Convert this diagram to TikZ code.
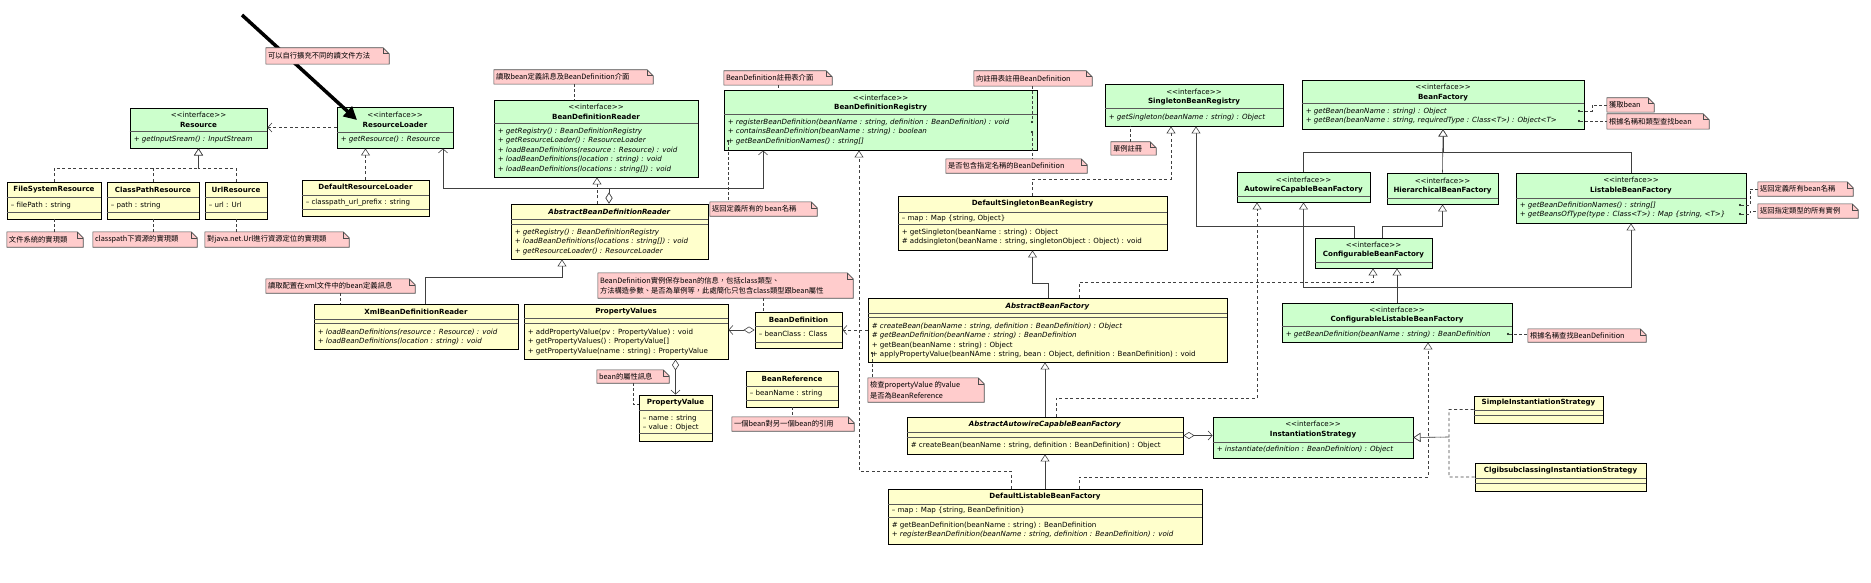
\documentclass[tikz,border=0pt]{standalone}
\usepackage{fontspec}
\setmainfont{DejaVu Sans}
\newfontfamily\cjk{Noto Sans CJK TC}
\usetikzlibrary{arrows.meta, fit}

\definecolor{ifgreen}{HTML}{CCFFCC}
\definecolor{clyellow}{HTML}{FFFFCC}
\definecolor{notepink}{HTML}{FFCCCC}

\newcommand\kfont{\fontsize{7.1}{9.6}\selectfont}
\newcommand\nfont{\cjk\fontsize{7.3}{10.5}\selectfont}
\newcommand\stereo{<{}<interface>{}>}
\newcommand\kbox[4]{\node[kbox,fill=#2,fit={#3 #4}] (#1) {};}
\newcommand\kdiv[2]{\draw[kdiv] (#1.west |- 0,#2) -- (#1.east |- 0,#2);}
\newcommand\khead[3]{\node[khead] (#1-h) at (#1.north |- 0,#2) {#3};}
\newcommand\kbody[4][]{\node[kbody,#1] (#2-b) at (#2.west |- 0,#3) {#4};}
\newcommand\memo[4]{\node[fit={#2 #3},inner sep=0pt] (#1) {};
  \filldraw[memo] (#1.south west) -- (#1.north west) -- ([xshift=-6pt]#1.north east)
    -- ([yshift=-6pt]#1.north east) -- (#1.south east) -- cycle;
  \draw[memoline] ([xshift=-6pt]#1.north east) |- ([yshift=-6pt]#1.north east);
  \node[memotext] (#1-t) at (#1.west) {#4};}

\begin{document}
\begin{tikzpicture}[x=1pt, y=-1pt,
    kbox/.style={draw=black, line width=0.9pt, inner sep=0pt},
    kdiv/.style={black!65, line width=0.5pt},
    khead/.style={font=\kfont, align=center, inner sep=0pt},
    kbody/.style={font=\kfont, align=left, anchor=north west, inner sep=0pt, xshift=4pt, yshift=3.5pt},
    memo/.style={fill=notepink, draw=black!70, line width=0.6pt},
    memoline/.style={draw=black!70, line width=0.6pt},
    memotext/.style={anchor=west, xshift=2pt, font=\nfont, align=left, inner sep=0pt},
    gen/.style={draw=black!75, line width=0.6pt, -{Triangle[open, fill=white, length=7pt, width=9pt]}},
    real/.style={gen, dash pattern=on 3pt off 2.5pt},
    agg/.style={draw=black!75, line width=0.6pt, {Diamond[open, fill=white, length=11pt, width=7pt]}-{Straight Barb[length=4pt, width=9pt]}},
    dep/.style={draw=black!75, line width=0.6pt, dash pattern=on 3pt off 2.5pt, -{Straight Barb[length=4pt, width=9pt]}},
    nline/.style={draw=black!75, line width=0.5pt, dash pattern=on 2.5pt off 2.5pt},
    dot/.style={circle, fill=black, inner sep=0pt, minimum size=2.4pt}]
\useasboundingbox (0,0) rectangle (1871,583);

% interfaces
\kbox{rsrc}{ifgreen}{(130,108)}{(267,148)}
\khead{rsrc}{120}{\stereo\\\textbf{Resource}}
\kdiv{rsrc}{131}
\kbody[font=\kfont\itshape]{rsrc}{139}{+ getInputSream() : InputStream}

\kbox{rl}{ifgreen}{(337,107)}{(453,148)}
\khead{rl}{120}{\stereo\\\textbf{ResourceLoader}}
\kdiv{rl}{132}
\kbody[font=\kfont\itshape]{rl}{139}{+ getResource() : Resource}

\kbox{bdr}{ifgreen}{(494,100)}{(698,177)}
\khead{bdr}{112}{\stereo\\\textbf{BeanDefinitionReader}}
\kdiv{bdr}{123}
\kbody[font=\kfont\itshape]{bdr}{131}{+ getRegistry() : BeanDefinitionRegistry\\+ getResourceLoader() : ResourceLoader\\+ loadBeanDefinitions(resource : Resource) : void\\+ loadBeanDefinitions(location : string) : void\\+ loadBeanDefinitions(locations : string[]) : void}

\kbox{bdreg}{ifgreen}{(724,90)}{(1037,150)}
\khead{bdreg}{103}{\stereo\\\textbf{BeanDefinitionRegistry}}
\kdiv{bdreg}{114}
\kbody[font=\kfont\itshape]{bdreg}{122}{+ registerBeanDefinition(beanName : string, definition : BeanDefinition) : void\\+ containsBeanDefinition(beanName : string) : boolean\\+ getBeanDefinitionNames() : string[]}

\kbox{sbr}{ifgreen}{(1105,84)}{(1283,126)}
\khead{sbr}{97}{\stereo\\\textbf{SingletonBeanRegistry}}
\kdiv{sbr}{108}
\kbody[font=\kfont\itshape]{sbr}{117}{+ getSingleton(beanName : string) : Object}

\kbox{bf}{ifgreen}{(1302,80)}{(1584,129)}
\khead{bf}{92.5}{\stereo\\\textbf{BeanFactory}}
\kdiv{bf}{103}
\kbody[font=\kfont\itshape]{bf}{111}{+ getBean(beanName : string) : Object\\+ getBean(beanName : string, requiredType : Class<T>) : Object<T>}

\kbox{acbf}{ifgreen}{(1237,172)}{(1370,202)}
\khead{acbf}{185}{\stereo\\\textbf{AutowireCapableBeanFactory}}
\kdiv{acbf}{196}

\kbox{hbf}{ifgreen}{(1387,173)}{(1498,204)}
\khead{hbf}{186}{\stereo\\\textbf{HierarchicalBeanFactory}}
\kdiv{hbf}{198}

\kbox{lbf}{ifgreen}{(1516,173)}{(1746,223)}
\khead{lbf}{185.5}{\stereo\\\textbf{ListableBeanFactory}}
\kdiv{lbf}{198}
\kbody[font=\kfont\itshape]{lbf}{205}{+ getBeanDefinitionNames() : string[]\\+ getBeansOfType(type : Class<T>) : Map \{string, <T>\}}

\kbox{cbf}{ifgreen}{(1315,238)}{(1432,268)}
\khead{cbf}{250}{\stereo\\\textbf{ConfigurableBeanFactory}}
\kdiv{cbf}{262}

\kbox{clbf}{ifgreen}{(1282,303)}{(1512,342)}
\khead{clbf}{315}{\stereo\\\textbf{ConfigurableListableBeanFactory}}
\kdiv{clbf}{326}
\kbody[font=\kfont\itshape]{clbf}{334}{+ getBeanDefinition(beanName : string) : BeanDefinition}

\kbox{is}{ifgreen}{(1213,417)}{(1413,458)}
\khead{is}{429.5}{\stereo\\\textbf{InstantiationStrategy}}
\kdiv{is}{442}
\kbody[font=\kfont\itshape]{is}{449}{+ instantiate(definition : BeanDefinition) : Object}

% classes
\kbox{fsr}{clyellow}{(7,182)}{(101,219)}
\khead{fsr}{190}{\textbf{FileSystemResource}}
\kdiv{fsr}{197} \kdiv{fsr}{212}
\kbody{fsr}{205}{-- filePath : string}

\kbox{cpr}{clyellow}{(107,182)}{(199,219)}
\khead{cpr}{190}{\textbf{ClassPathResource}}
\kdiv{cpr}{197} \kdiv{cpr}{212}
\kbody{cpr}{205}{-- path : string}

\kbox{ur}{clyellow}{(205,182)}{(267,219)}
\khead{ur}{190}{\textbf{UrlResource}}
\kdiv{ur}{197} \kdiv{ur}{212}
\kbody{ur}{205}{-- url : Url}

\kbox{drl}{clyellow}{(302,180)}{(429,216)}
\khead{drl}{187}{\textbf{DefaultResourceLoader}}
\kdiv{drl}{195} \kdiv{drl}{209}
\kbody{drl}{202}{-- classpath\_url\_prefix : string}

\kbox{abdr}{clyellow}{(511,204)}{(708,259)}
\khead{abdr}{212}{\textbf{\textit{AbstractBeanDefinitionReader}}}
\kdiv{abdr}{219} \kdiv{abdr}{224}
\kbody[font=\kfont\itshape]{abdr}{232}{+ getRegistry() : BeanDefinitionRegistry\\+ loadBeanDefinitions(locations : string[]) : void\\+ getResourceLoader() : ResourceLoader}

\kbox{xbdr}{clyellow}{(314,304)}{(518,349)}
\khead{xbdr}{311.5}{\textbf{XmlBeanDefinitionReader}}
\kdiv{xbdr}{319} \kdiv{xbdr}{323}
\kbody[font=\kfont\itshape]{xbdr}{332}{+ loadBeanDefinitions(resource : Resource) : void\\+ loadBeanDefinitions(location : string) : void}

\kbox{pvs}{clyellow}{(524,304)}{(728,359)}
\khead{pvs}{311.5}{\textbf{PropertyValues}}
\kdiv{pvs}{318} \kdiv{pvs}{323}
\kbody{pvs}{332}{+ addPropertyValue(pv : PropertyValue) : void\\+ getPropertyValues() : PropertyValue[]\\+ getPropertyValue(name : string) : PropertyValue}

\kbox{pv}{clyellow}{(639,395)}{(712,441)}
\khead{pv}{403}{\textbf{PropertyValue}}
\kdiv{pv}{410} \kdiv{pv}{433}
\kbody{pv}{418}{-- name : string\\-- value : Object}

\kbox{bd}{clyellow}{(755,312)}{(842,348)}
\khead{bd}{320}{\textbf{BeanDefinition}}
\kdiv{bd}{326} \kdiv{bd}{342}
\kbody{bd}{334}{-- beanClass : Class}

\kbox{bref}{clyellow}{(746,371)}{(838,407)}
\khead{bref}{378.5}{\textbf{BeanReference}}
\kdiv{bref}{386} \kdiv{bref}{400}
\kbody{bref}{393}{-- beanName : string}

\kbox{dsbr}{clyellow}{(898,196)}{(1167,250)}
\khead{dsbr}{203.5}{\textbf{DefaultSingletonBeanRegistry}}
\kdiv{dsbr}{212} \kdiv{dsbr}{224}
\kbody{dsbr}{218}{-- map : Map \{string, Object\}}
\kbody{dsbr}{232}{+ getSingleton(beanName : string) : Object\\\# addsingleton(beanName : string, singletonObject : Object) : void}

\kbox{abf}{clyellow}{(868,298)}{(1227,362)}
\khead{abf}{306.5}{\textbf{\textit{AbstractBeanFactory}}}
\kdiv{abf}{313} \kdiv{abf}{317}
\kbody{abf}{326}{\textit{\# createBean(beanName : string, definition : BeanDefinition) : Object}\\\textit{\# getBeanDefinition(beanName : string) : BeanDefinition}\\+ getBean(beanName : string) : Object\\+ applyPropertyValue(beanNAme : string, bean : Object, definition : BeanDefinition) : void}

\kbox{aacbf}{clyellow}{(907,417)}{(1183,454)}
\khead{aacbf}{425}{\textbf{\textit{AbstractAutowireCapableBeanFactory}}}
\kdiv{aacbf}{432} \kdiv{aacbf}{437}
\kbody{aacbf}{445}{\# createBean(beanName : string, definition : BeanDefinition) : Object}

\kbox{dlbf}{clyellow}{(888,489)}{(1202,544)}
\khead{dlbf}{497}{\textbf{DefaultListableBeanFactory}}
\kdiv{dlbf}{504} \kdiv{dlbf}{517}
\kbody{dlbf}{510.5}{-- map : Map \{string, BeanDefinition\}}
\kbody{dlbf}{525}{\# getBeanDefinition(beanName : string) : BeanDefinition\\\textit{+ registerBeanDefinition(beanName : string, definition : BeanDefinition) : void}}

\kbox{sis}{clyellow}{(1474,396)}{(1603,423)}
\khead{sis}{403}{\textbf{SimpleInstantiationStrategy}}
\kdiv{sis}{410} \kdiv{sis}{415}

\kbox{cis}{clyellow}{(1475,463)}{(1646,491)}
\khead{cis}{471}{\textbf{ClgibsubclassingInstantiationStrategy}}
\kdiv{cis}{478} \kdiv{cis}{483}

% hint arrow
\coordinate (hint) at (242,15);
\coordinate (hintend) at (357,120);
\draw[line width=3.5pt, -{Triangle[length=13pt, width=13pt]}] (hint) -- (hintend);

% notes
\memo{n1}{(266,48)}{(389,64)}{可以自行擴充不同的讀文件方法}
\memo{n2}{(7,232)}{(83,247)}{文件系統的實現類}
\memo{n3}{(93,232)}{(197,247)}{classpath下資源的實現類}
\memo{n4}{(205,232)}{(349,247)}{對java.net.Url進行資源定位的實現類}
\memo{n5}{(266,279)}{(415,293)}{讀取配置在xml文件中的bean定義訊息}
\memo{n6}{(494,70)}{(653,84)}{讀取bean定義訊息及BeanDefinition介面}
\memo{n7}{(724,71)}{(832,85)}{BeanDefinition註冊表介面}
\memo{n8}{(974,71)}{(1092,86)}{向註冊表註冊BeanDefinition}
\memo{n9}{(946,159)}{(1087,173)}{是否包含指定名稱的BeanDefinition}
\memo{n10}{(710,202)}{(817,216)}{返回定義所有的 bean名稱}
\memo{n11}{(1111,142)}{(1156,155)}{單例註冊}
\memo{n12}{(1607,98)}{(1654,112)}{獲取bean}
\memo{n13}{(1607,114)}{(1709,129)}{根據名稱和類型查找bean}
\memo{n14}{(1758,182)}{(1853,196)}{返回定義所有bean名稱}
\memo{n15}{(1758,204)}{(1858,218)}{返回指定類型的所有實例}
\memo{n16}{(1528,329)}{(1646,342)}{根據名稱查找BeanDefinition}
\memo{n17}{(598,273)}{(853,298)}{BeanDefinition實例保存bean的信息，包括class類型、\\方法構造參數、是否為單例等，此處簡化只包含class類型跟bean屬性}
\memo{n18}{(597,370)}{(669,383)}{bean的屬性訊息}
\memo{n19}{(868,378)}{(984,402)}{檢查propertyValue 的value\\是否為BeanReference}
\memo{n20}{(732,417)}{(854,431)}{一個bean對另一個bean的引用}

\node[dot] (d8) at (1032,122) {};
\node[dot] (d9) at (1032,132) {};
\node[dot] (d10) at (728,141) {};
\node[dot] (d12) at (1579,111) {};
\node[dot] (d13) at (1579,121) {};
\node[dot] (d14) at (1740,205) {};
\node[dot] (d15) at (1740,214) {};
\node[dot] (d16) at (1508,334) {};
\node[dot] (d19) at (872,353) {};

% realization
\draw[real] (fsr.north) |- (rsrc.south |- 0,168) -- (rsrc.south);
\draw[real] (cpr.north) |- (rsrc.south |- 0,168) -- (rsrc.south);
\draw[real] (ur.north) |- (rsrc.south |- 0,168) -- (rsrc.south);
\draw[real] (drl.north) -- (drl.north |- rl.south);
\draw[real] (abdr.north -| 597,0) -- (bdr.south -| 597,0);
\draw[real] (dsbr.north) |- (1171,179) -- (sbr.south -| 1171,0);
\draw[real] (abf.north -| 1079,0) |- (1373,282) -- (cbf.south -| 1373,0);
\draw[real] (aacbf.north -| 1056,0) |- (1257,398) -- (acbf.south -| 1257,0);
\draw[real] (dlbf.north -| 1011,0) |- (859,471) -- (bdreg.south -| 859,0);
\draw[real] (dlbf.north -| 1079,0) |- (1428,477) -- (clbf.south -| 1428,0);
\draw[real] (sis.west) -| (1449,437) -- (is.east);
\draw[real] (cis.west) -| (1449,437) -- (is.east);

% generalization
\draw[gen] (xbdr.north -| 425,0) |- (562,277) -- (abdr.south -| 562,0);
\draw[gen] (hbf.north) -- (bf.south);
\draw[gen] (acbf.north) |- (bf.south |- 0,152) -- (bf.south);
\draw[gen] (lbf.north) |- (bf.south |- 0,152) -- (bf.south);
\draw[gen] (cbf.north -| 1382,0) |- (hbf.south |- 0,226) -- (hbf.south);
\draw[gen] (cbf.north -| 1354,0) |- (1196,226) -- (sbr.south -| 1196,0);
\draw[gen] (clbf.north -| 1397,0) -- (cbf.south -| 1397,0);
\draw[gen] (clbf.north -| 1397,0) |- (acbf.south |- 0,287) -- (acbf.south);
\draw[gen] (clbf.north -| 1397,0) |- (lbf.south |- 0,287) -- (lbf.south);
\draw[gen] (abf.north -| 1048,0) |- (dsbr.south |- 0,283) -- (dsbr.south);
\draw[gen] (aacbf.north) -- (aacbf.north |- abf.south);
\draw[gen] (dlbf.north) -- (aacbf.south);

% aggregation, dependency
\draw[agg] (abdr.north -| 609,0) |- (443,188) -- (rl.south -| 443,0);
\draw[agg] (abdr.north -| 609,0) |- (763,188) -- (bdreg.south -| 763,0);
\draw[agg] (bd.west) -- (pvs.east |- bd.west);
\draw[agg] (pv.north |- pvs.south) -- (pv.north);
\draw[agg] (aacbf.east) -- (is.west |- aacbf.east);
\draw[dep] (rl.west) -- (rsrc.east |- rl.west);
\draw[dep] (abf.west |- bd.east) -- (bd.east);

% note links
\draw[nline] (fsr.south) -- (fsr.south |- n2.north);
\draw[nline] (cpr.south) -- (cpr.south |- n3.north);
\draw[nline] (ur.south) -- (ur.south |- n4.north);
\draw[nline] (n5.south -| 340,0) -- (xbdr.north -| 340,0);
\draw[nline] (n6.south -| 574,0) -- (bdr.north -| 574,0);
\draw[nline] (n7.south -| 778,0) -- (bdreg.north -| 778,0);
\draw[nline] (n8.south -| d8) -- (d8);
\draw[nline] (d9) -- (n9.north -| d9);
\draw[nline] (d10) -- (n10.north -| d10);
\draw[nline] (n11.north -| 1130,0) -- (sbr.south -| 1130,0);
\draw[nline] (d12) -| (1592,0 |- n12.west) -- (n12.west);
\draw[nline] (d13) -- (n13.west |- d13);
\draw[nline] (d14) -| (1750,0 |- n14.west) -- (n14.west);
\draw[nline] (d15) -| (1750,0 |- n15.west) -- (n15.west);
\draw[nline] (d16) -- (n16.west |- d16);
\draw[nline] (n17.south -| 763,0) -- (bd.north -| 763,0);
\draw[nline] (n18.south -| 633,0) |- (pv.west |- 0,404);
\draw[nline] (d19) -- (n19.north -| d19);
\draw[nline] (bref.south -| 792,0) -- (n20.north -| 792,0);
\end{tikzpicture}
\end{document}
